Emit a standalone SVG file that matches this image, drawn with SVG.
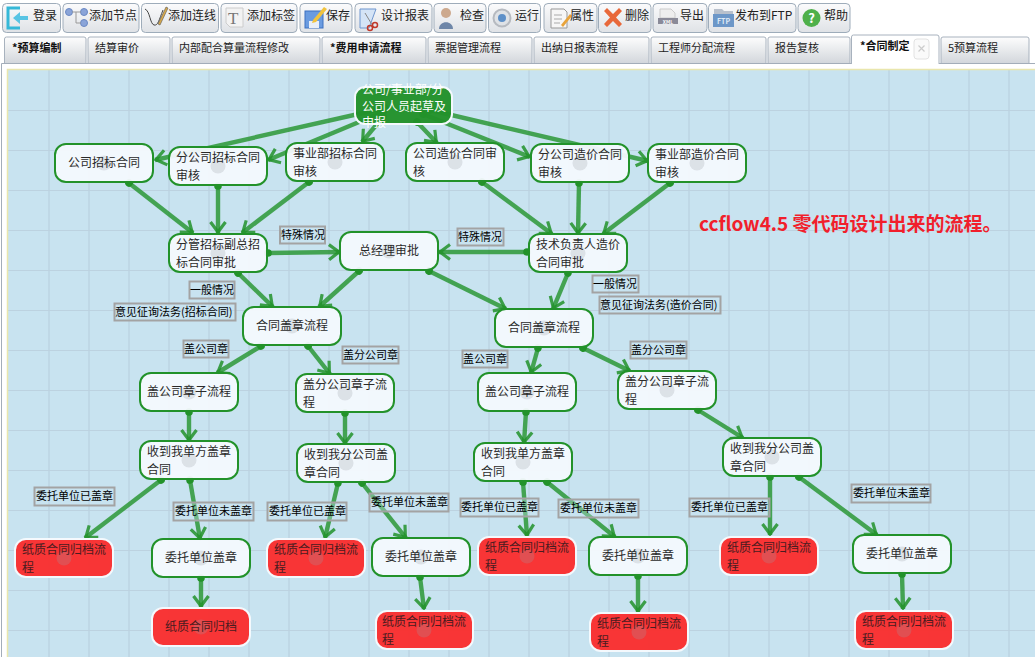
<svg xmlns="http://www.w3.org/2000/svg" width="1035" height="657" viewBox="0 0 1035 657">
<style>
text{font-family:"Noto Sans CJK SC","Noto Sans",sans-serif}
.b{fill:url(#btn);stroke:#9eacba;stroke-width:1}
.t{font-size:12px;fill:#222}
.tb{font-size:11px;fill:#222}
.tbb{font-size:11px;fill:#111;font-weight:700}
.c{stroke:#22922a;stroke-opacity:.8;stroke-width:4.400;fill:none;marker-start:url(#dot);marker-end:url(#arr)}
.n{fill:#f4f9fd;fill-opacity:.95;stroke:#22922a;stroke-width:2}
.r{fill:#f92f30;fill-opacity:.97;stroke:#f4f9fd;stroke-width:2}
.s{fill:#22922a;fill-opacity:.97;stroke:#f4f9fd;stroke-width:2}
.d{fill:#9aa0a8;fill-opacity:.25}
.nt{font-size:12px;fill:#2a2a2a}
.rt{font-size:12px;fill:#4a1c20}
.l{fill:#c8e3f0;fill-opacity:.35;stroke:#a3a3a3;stroke-width:2}
.lt{font-size:11px;fill:#000}
</style>
<defs>
<linearGradient id="btn" x1="0" y1="0" x2="0" y2="1"><stop offset="0" stop-color="#fbfbfc"/><stop offset="1" stop-color="#dfe2e6"/></linearGradient>
<linearGradient id="tab" x1="0" y1="0" x2="0" y2="1"><stop offset="0" stop-color="#fdfdfd"/><stop offset="1" stop-color="#d3d7dc"/></linearGradient>
<marker id="dot" markerUnits="userSpaceOnUse" markerWidth="10" markerHeight="10" refX="5" refY="5" orient="auto"><circle cx="5" cy="5" r="3.800" fill="#22922a"/></marker>
<marker id="arr" markerUnits="userSpaceOnUse" markerWidth="16" markerHeight="18" refX="14" refY="9" orient="auto"><path d="M3,1.500 L13,9 L3,16.500" fill="none" stroke="#22922a" stroke-opacity=".85" stroke-width="3.200"/></marker>
</defs>

<rect width="1035" height="657" fill="#fff"/>
<g id="canvas">
<rect x="7" y="69" width="1028" height="588" fill="#c8e3f0"/>
<path d="M49 70V657M89 70V657M129 70V657M169 70V657M209 70V657M249 70V657M289 70V657M329 70V657M369 70V657M409 70V657M449 70V657M489 70V657M529 70V657M569 70V657M609 70V657M649 70V657M689 70V657M729 70V657M769 70V657M809 70V657M849 70V657M889 70V657M929 70V657M969 70V657M1009 70V657" stroke="#bfd8e6" stroke-width="2" fill="none"/>
<path d="M8 110.500H1035M8 150.500H1035M8 190.500H1035M8 230.500H1035M8 270.500H1035M8 310.500H1035M8 350.500H1035M8 390.500H1035M8 430.500H1035M8 470.500H1035M8 510.500H1035M8 550.500H1035M8 590.500H1035M8 630.500H1035" stroke="#bcd2e0" stroke-width="1" fill="none"/>
<path d="M7.500 657V69.500H1035" stroke="#e9e6ad" stroke-width="1.500" fill="none"/>
<path d="M1.500 63.500V657M1.500 63.500H1035" stroke="#a3adb9" stroke-width="1" fill="none"/>
</g>

<g id="toolbar">
<rect class="b" x="2.500" y="3.500" width="58" height="29" rx="4"/>
<rect class="b" x="63" y="3.500" width="76" height="29" rx="4"/>
<rect class="b" x="141.500" y="3.500" width="77" height="29" rx="4"/>
<rect class="b" x="221" y="3.500" width="76" height="29" rx="4"/>
<rect class="b" x="300" y="3.500" width="52" height="29" rx="4"/>
<rect class="b" x="355" y="3.500" width="77" height="29" rx="4"/>
<rect class="b" x="434" y="3.500" width="52" height="29" rx="4"/>
<rect class="b" x="488.500" y="3.500" width="52" height="29" rx="4"/>
<rect class="b" x="544" y="3.500" width="53" height="29" rx="4"/>
<rect class="b" x="598.500" y="3.500" width="52.500" height="29" rx="4"/>
<rect class="b" x="653" y="3.500" width="54" height="29" rx="4"/>
<rect class="b" x="708.500" y="3.500" width="87.500" height="29" rx="4"/>
<rect class="b" x="798" y="3.500" width="52" height="29" rx="4"/>
<path d="M20 8H8V28H20" fill="none" stroke="#35b8d8" stroke-width="3"/><path d="M28 16H20V12L13 18L20 24V20H28Z" fill="#58c4e4"/>
<g fill="#8aa4d8" stroke="#6a88c4"><circle cx="69" cy="12" r="3.500"/><circle cx="84" cy="12" r="3.500"/><circle cx="84" cy="23" r="3.500"/></g><path d="M72 12H81M76 12V23H81" stroke="#999" fill="none"/>
<path d="M145 9C150 11 150 24 154 25C158 26 159 20 163 10" fill="none" stroke="#444"/><path d="M158 24L166 7L168 8L160 25Z" fill="#d9a94a" stroke="#555" stroke-width=".6"/>
<path d="M226 8H243V27H230L226 23Z" fill="#f3f3f3" stroke="#ccc"/><text x="228" y="24" font-size="17" fill="#777" style="font-family:'Liberation Serif',serif">T</text>
<rect x="305" y="11" width="18" height="17" fill="#6a9be0" stroke="#3c70c0"/><rect x="309" y="21" width="10" height="7" fill="#e8eef8"/><path d="M313 20L324 7L327 9L316 22L312 23Z" fill="#f1c33e"/>
<path d="M360 9H376L369 28H360Z" fill="#d5e4f6" stroke="#6f96cf"/><path d="M365 13L374 28" stroke="#888"/><circle cx="375" cy="25" r="2.500" fill="none" stroke="#c0392b" stroke-width="1.500"/><circle cx="370" cy="28" r="2.500" fill="none" stroke="#c0392b" stroke-width="1.500"/>
<circle cx="446" cy="13" r="5" fill="#cda98e"/><path d="M439 29C439 20 453 20 453 29Z" fill="#6e86a8"/>
<circle cx="502" cy="18" r="8.500" fill="#dfe2e6" stroke="#b6bac0" stroke-width="2"/><circle cx="502" cy="18" r="4" fill="#5e90c8"/>
<path d="M551 9H564L567 12V28H551Z" fill="#f6f6f6" stroke="#999"/><path d="M554 15H562M554 19H562M554 23H560" stroke="#aaa"/><path d="M561 25L570 14L572 16L563 27Z" fill="#e8a33a"/>
<path d="M604 11L607 8L613 14L619 8L622 11L616 17.500L622 24L619 27L613 21L607 27L604 24L610 17.500Z" fill="#e8683a"/>
<path d="M660 9H671L675 13V18H660Z" fill="#eee" stroke="#ccc"/><rect x="658" y="18" width="20" height="6" fill="#8a8a98"/><text x="668" y="23.500" font-size="5" fill="#fff" text-anchor="middle" font-weight="700">XML</text>
<path d="M714 9H722L724 11H733V17H714Z" fill="#b8c0cc"/><rect x="713" y="14" width="21" height="13" fill="#6d97c8"/><text x="723.500" y="24" font-size="7" fill="#dfeaf6" text-anchor="middle" font-weight="700">FTP</text>
<circle cx="811.500" cy="18" r="9" fill="#4fb04a"/><text x="811.500" y="23" font-size="13" fill="#fff" text-anchor="middle" font-weight="700">?</text>
<g class="t">
<text x="33" y="20">登录</text>
<text x="89" y="20">添加节点</text>
<text x="168" y="20">添加连线</text>
<text x="247" y="20">添加标签</text>
<text x="326" y="20">保存</text>
<text x="381" y="20">设计报表</text>
<text x="460" y="20">检查</text>
<text x="515" y="20">运行</text>
<text x="570" y="20">属性</text>
<text x="625" y="20">删除</text>
<text x="680" y="20">导出</text>
<text x="735" y="20">发布到FTP</text>
<text x="824" y="20">帮助</text>
</g>
</g>

<g id="tabs" fill="url(#tab)" stroke="#a8b2be">
<path d="M4.500 63V39Q4.500 37 6.500 37H84Q86 37 86 39V63"/>
<path d="M88 63V39Q88 37 90 37H168Q170 37 170 39V63"/>
<path d="M172 63V39Q172 37 174 37H318Q320 37 320 39V63"/>
<path d="M322 63V39Q322 37 324 37H424Q426 37 426 39V63"/>
<path d="M428 63V39Q428 37 430 37H530Q532 37 532 39V63"/>
<path d="M534 63V39Q534 37 536 37H647Q649 37 649 39V63"/>
<path d="M651 63V39Q651 37 653 37H764Q766 37 766 39V63"/>
<path d="M768 63V39Q768 37 770 37H848Q850 37 850 39V63"/>
<path d="M851.500 64V37Q851.500 35 853.500 35H937Q939 35 939 37V64" fill="#fff"/>
<path d="M941 63V39Q941 37 943 37H1027Q1029 37 1029 39V63"/>
<rect x="914" y="39" width="15" height="20" rx="3" fill="#fafafa" stroke="#e2e2e2"/>
<path d="M918.500 45.500L924.500 51.500M924.500 45.500L918.500 51.500" stroke="#ccc" stroke-width="1.200" fill="none"/>
</g>
<g id="tab-labels">
<text class="tbb" x="12" y="52">*预算编制</text>
<text class="tb" x="95" y="52">结算审价</text>
<text class="tb" x="179" y="52">内部配合算量流程修改</text>
<text class="tbb" x="330" y="52">*费用申请流程</text>
<text class="tb" x="435" y="52">票据管理流程</text>
<text class="tb" x="541" y="52">出纳日报表流程</text>
<text class="tb" x="658" y="52">工程师分配流程</text>
<text class="tb" x="775" y="52">报告复核</text>
<text class="tbb" x="860" y="50">*合同制定</text>
<text class="tb" x="948" y="52">5预算流程</text>
</g>

<g id="connectors">
<line class="c" x1="385" y1="108" x2="155" y2="160"/>
<line class="c" x1="383" y1="112" x2="268" y2="160"/>
<line class="c" x1="383" y1="117" x2="362" y2="142"/>
<line class="c" x1="417" y1="122" x2="437" y2="143"/>
<line class="c" x1="423" y1="114" x2="530" y2="157"/>
<line class="c" x1="430" y1="110" x2="648" y2="161"/>
<line class="c" x1="129" y1="183" x2="193" y2="233"/>
<line class="c" x1="218" y1="186" x2="218" y2="233"/>
<line class="c" x1="309" y1="182" x2="242" y2="233"/>
<line class="c" x1="482" y1="182" x2="552" y2="234"/>
<line class="c" x1="579" y1="183" x2="578" y2="234"/>
<line class="c" x1="670" y1="183" x2="603" y2="234"/>
<line class="c" x1="268" y1="253" x2="340" y2="252"/>
<line class="c" x1="527" y1="252" x2="439" y2="252"/>
<line class="c" x1="238" y1="273" x2="273" y2="307"/>
<line class="c" x1="359" y1="271" x2="319" y2="307"/>
<line class="c" x1="429" y1="271" x2="506" y2="309"/>
<line class="c" x1="568" y1="273" x2="553" y2="309"/>
<line class="c" x1="261" y1="346" x2="217" y2="373"/>
<line class="c" x1="308" y1="346" x2="330" y2="374"/>
<line class="c" x1="189" y1="412" x2="189" y2="441"/>
<line class="c" x1="345" y1="413" x2="345" y2="444"/>
<line class="c" x1="538" y1="348" x2="531" y2="373"/>
<line class="c" x1="583" y1="348" x2="630" y2="371"/>
<line class="c" x1="698" y1="410" x2="743" y2="438"/>
<line class="c" x1="526" y1="412" x2="524" y2="443"/>
<line class="c" x1="161" y1="480" x2="85" y2="538"/>
<line class="c" x1="190" y1="480" x2="200" y2="539"/>
<line class="c" x1="201" y1="578" x2="201" y2="607"/>
<line class="c" x1="338" y1="483" x2="325" y2="538"/>
<line class="c" x1="362" y1="483" x2="406" y2="538"/>
<line class="c" x1="420" y1="577" x2="424" y2="609"/>
<line class="c" x1="523" y1="482" x2="527" y2="536"/>
<line class="c" x1="547" y1="482" x2="615" y2="537"/>
<line class="c" x1="638" y1="576" x2="638" y2="612"/>
<line class="c" x1="770" y1="477" x2="770" y2="535"/>
<line class="c" x1="799" y1="477" x2="877" y2="535"/>
<line class="c" x1="902" y1="574" x2="903" y2="609"/>
</g>

<g id="n1"><rect class="s" x="355" y="87" width="97" height="37" rx="10"/><g fill="#fff" font-size="12"><text x="362" y="94">公司/事业部/分</text><text x="362" y="111">公司人员起草及</text><text x="362" y="127">申报</text></g></g>
<g id="n2"><rect class="n" x="55" y="144" width="98" height="38" rx="11"/><circle class="d" cx="104" cy="163" r="7.500"/><text class="nt" x="68" y="167">公司招标合同</text></g>
<g id="n3"><rect class="n" x="169" y="147" width="98" height="38" rx="11"/><circle class="d" cx="218" cy="166" r="7.500"/><text class="nt" x="176" y="162">分公司招标合同</text><text class="nt" x="176" y="180">审核</text></g>
<g id="n4"><rect class="n" x="286" y="143" width="98" height="38" rx="11"/><circle class="d" cx="335" cy="162" r="7.500"/><text class="nt" x="293" y="158">事业部招标合同</text><text class="nt" x="293" y="176">审核</text></g>
<g id="n5"><rect class="n" x="406" y="143" width="98" height="38" rx="11"/><circle class="d" cx="455" cy="162" r="7.500"/><text class="nt" x="413" y="158">公司造价合同审</text><text class="nt" x="413" y="176">核</text></g>
<g id="n6"><rect class="n" x="531" y="144" width="98" height="38" rx="11"/><circle class="d" cx="580" cy="163" r="7.500"/><text class="nt" x="538" y="159">分公司造价合同</text><text class="nt" x="538" y="177">审核</text></g>
<g id="n7"><rect class="n" x="648" y="144" width="98" height="38" rx="11"/><circle class="d" cx="697" cy="163" r="7.500"/><text class="nt" x="655" y="159">事业部造价合同</text><text class="nt" x="655" y="177">审核</text></g>
<g id="n8"><rect class="n" x="169" y="234" width="98" height="38" rx="11"/><circle class="d" cx="218" cy="253" r="7.500"/><text class="nt" x="176" y="249">分管招标副总招</text><text class="nt" x="176" y="267">标合同审批</text></g>
<g id="n9"><rect class="n" x="340" y="232" width="98" height="38" rx="11"/><circle class="d" cx="389" cy="251" r="7.500"/><text class="nt" x="359" y="255">总经理审批</text></g>
<g id="n10"><rect class="n" x="529" y="234" width="98" height="38" rx="11"/><circle class="d" cx="578" cy="253" r="7.500"/><text class="nt" x="536" y="249">技术负责人造价</text><text class="nt" x="536" y="267">合同审批</text></g>
<g id="n11"><rect class="n" x="243" y="307" width="98" height="38" rx="11"/><circle class="d" cx="292" cy="326" r="7.500"/><text class="nt" x="256" y="330">合同盖章流程</text></g>
<g id="n12"><rect class="n" x="495" y="309" width="98" height="38" rx="11"/><circle class="d" cx="544" cy="328" r="7.500"/><text class="nt" x="508" y="332">合同盖章流程</text></g>
<g id="n13"><rect class="n" x="140" y="373" width="98" height="38" rx="11"/><circle class="d" cx="189" cy="392" r="7.500"/><text class="nt" x="147" y="396">盖公司章子流程</text></g>
<g id="n14"><rect class="n" x="296" y="374" width="98" height="38" rx="11"/><circle class="d" cx="345" cy="393" r="7.500"/><text class="nt" x="303" y="389">盖分公司章子流</text><text class="nt" x="303" y="407">程</text></g>
<g id="n15"><rect class="n" x="478" y="373" width="98" height="38" rx="11"/><circle class="d" cx="527" cy="392" r="7.500"/><text class="nt" x="485" y="396">盖公司章子流程</text></g>
<g id="n16"><rect class="n" x="618" y="371" width="98" height="38" rx="11"/><circle class="d" cx="667" cy="390" r="7.500"/><text class="nt" x="625" y="386">盖分公司章子流</text><text class="nt" x="625" y="404">程</text></g>
<g id="n17"><rect class="n" x="140" y="441" width="98" height="38" rx="11"/><circle class="d" cx="189" cy="460" r="7.500"/><text class="nt" x="147" y="456">收到我单方盖章</text><text class="nt" x="147" y="474">合同</text></g>
<g id="n18"><rect class="n" x="297" y="444" width="98" height="38" rx="11"/><circle class="d" cx="346" cy="463" r="7.500"/><text class="nt" x="304" y="459">收到我分公司盖</text><text class="nt" x="304" y="477">章合同</text></g>
<g id="n19"><rect class="n" x="474" y="443" width="98" height="38" rx="11"/><circle class="d" cx="523" cy="462" r="7.500"/><text class="nt" x="481" y="458">收到我单方盖章</text><text class="nt" x="481" y="476">合同</text></g>
<g id="n20"><rect class="n" x="723" y="438" width="98" height="38" rx="11"/><circle class="d" cx="772" cy="457" r="7.500"/><text class="nt" x="730" y="453">收到我分公司盖</text><text class="nt" x="730" y="471">章合同</text></g>
<g id="n21"><rect class="r" x="15" y="539" width="98" height="38" rx="11"/><circle class="d" cx="64" cy="558" r="7.500"/><text class="rt" x="22" y="554">纸质合同归档流</text><text class="rt" x="22" y="572">程</text></g>
<g id="n22"><rect class="n" x="152" y="539" width="98" height="38" rx="11"/><circle class="d" cx="201" cy="558" r="7.500"/><text class="nt" x="165" y="562">委托单位盖章</text></g>
<g id="n23"><rect class="r" x="152" y="608" width="98" height="38" rx="11"/><circle class="d" cx="201" cy="627" r="7.500"/><text class="rt" x="165" y="631">纸质合同归档</text></g>
<g id="n24"><rect class="r" x="267" y="539" width="98" height="38" rx="11"/><circle class="d" cx="316" cy="558" r="7.500"/><text class="rt" x="274" y="554">纸质合同归档流</text><text class="rt" x="274" y="572">程</text></g>
<g id="n25"><rect class="n" x="372" y="538" width="98" height="38" rx="11"/><circle class="d" cx="421" cy="557" r="7.500"/><text class="nt" x="385" y="561">委托单位盖章</text></g>
<g id="n26"><rect class="r" x="376" y="611" width="97" height="38" rx="11"/><circle class="d" cx="424" cy="630" r="7.500"/><text class="rt" x="382" y="626">纸质合同归档流</text><text class="rt" x="382" y="644">程</text></g>
<g id="n27"><rect class="r" x="478" y="537" width="98" height="38" rx="11"/><circle class="d" cx="527" cy="556" r="7.500"/><text class="rt" x="485" y="552">纸质合同归档流</text><text class="rt" x="485" y="570">程</text></g>
<g id="n28"><rect class="n" x="589" y="537" width="98" height="38" rx="11"/><circle class="d" cx="638" cy="556" r="7.500"/><text class="nt" x="602" y="560">委托单位盖章</text></g>
<g id="n29"><rect class="r" x="590" y="613" width="98" height="38" rx="11"/><circle class="d" cx="639" cy="632" r="7.500"/><text class="rt" x="597" y="628">纸质合同归档流</text><text class="rt" x="597" y="646">程</text></g>
<g id="n30"><rect class="r" x="720" y="537" width="98" height="38" rx="11"/><circle class="d" cx="769" cy="556" r="7.500"/><text class="rt" x="727" y="552">纸质合同归档流</text><text class="rt" x="727" y="570">程</text></g>
<g id="n31"><rect class="n" x="853" y="535" width="98" height="38" rx="11"/><circle class="d" cx="902" cy="554" r="7.500"/><text class="nt" x="866" y="558">委托单位盖章</text></g>
<g id="n32"><rect class="r" x="855" y="611" width="98" height="38" rx="11"/><circle class="d" cx="904" cy="630" r="7.500"/><text class="rt" x="862" y="626">纸质合同归档流</text><text class="rt" x="862" y="644">程</text></g>

<g id="labels">
<rect class="l" x="280" y="226.500" width="45" height="17"/><text class="lt" x="281" y="239">特殊情况</text>
<rect class="l" x="189.500" y="281.500" width="45" height="17"/><text class="lt" x="190" y="294">一般情况</text>
<rect class="l" x="114.500" y="303.500" width="121" height="17"/><text class="lt" x="115" y="316">意见征询法务(招标合同)</text>
<rect class="l" x="183.500" y="340.500" width="45" height="17"/><text class="lt" x="184" y="353">盖公司章</text>
<rect class="l" x="342.500" y="346.500" width="56" height="17"/><text class="lt" x="343" y="359">盖分公司章</text>
<rect class="l" x="457.500" y="228.500" width="46" height="17"/><text class="lt" x="458" y="241">特殊情况</text>
<rect class="l" x="592.500" y="275.500" width="46" height="17"/><text class="lt" x="593" y="288">一般情况</text>
<rect class="l" x="599.500" y="296.500" width="121" height="17"/><text class="lt" x="600" y="309">意见征询法务(造价合同)</text>
<rect class="l" x="462.500" y="350.500" width="45" height="17"/><text class="lt" x="463" y="363">盖公司章</text>
<rect class="l" x="630.500" y="341.500" width="56" height="17"/><text class="lt" x="631" y="354">盖分公司章</text>
<rect class="l" x="34.500" y="487.500" width="80" height="18"/><text class="lt" x="36" y="500">委托单位已盖章</text>
<rect class="l" x="173.500" y="502.500" width="80" height="18"/><text class="lt" x="175" y="515">委托单位未盖章</text>
<rect class="l" x="267.500" y="502.500" width="79" height="18"/><text class="lt" x="269" y="515">委托单位已盖章</text>
<rect class="l" x="369.500" y="493.500" width="79" height="18"/><text class="lt" x="371" y="506">委托单位未盖章</text>
<rect class="l" x="460.500" y="498.500" width="78" height="18"/><text class="lt" x="461" y="511">委托单位已盖章</text>
<rect class="l" x="558.500" y="499.500" width="80" height="18"/><text class="lt" x="560" y="512">委托单位未盖章</text>
<rect class="l" x="689.500" y="498.500" width="80" height="18"/><text class="lt" x="691" y="511">委托单位已盖章</text>
<rect class="l" x="851.500" y="484.500" width="79" height="18"/><text class="lt" x="853" y="497">委托单位未盖章</text>
</g>
<text id="note" x="699" y="231" font-size="19" font-weight="700" fill="#f11f2c">ccflow4.5 零代码设计出来的流程。</text>
</svg>
